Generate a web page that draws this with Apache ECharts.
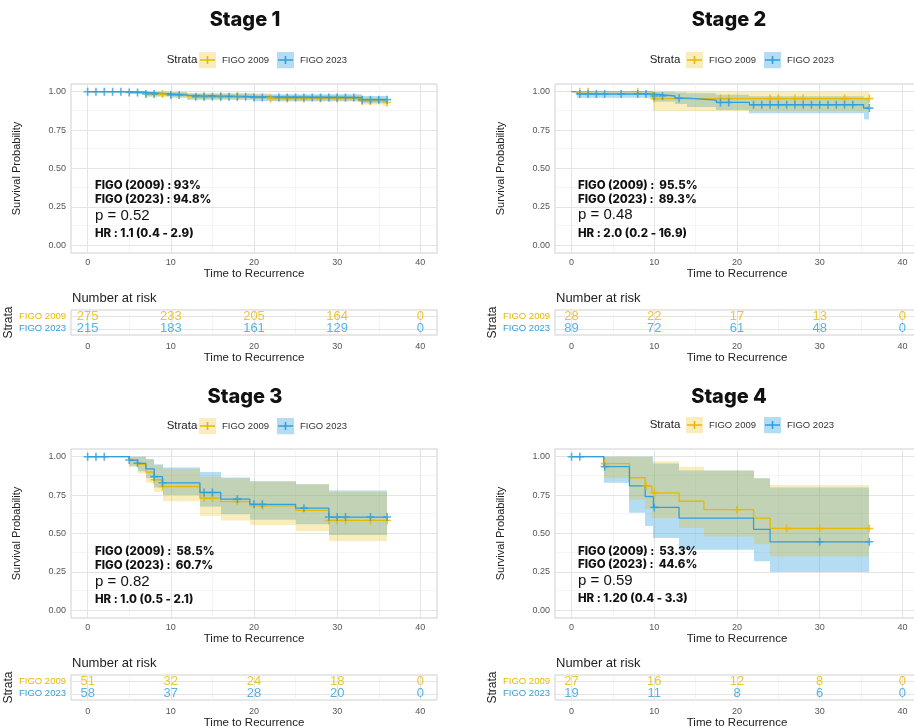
<!DOCTYPE html>
<html>
<head>
<meta charset="UTF-8">
<script src="https://cdn.jsdelivr.net/npm/echarts@6/dist/echarts.min.js"></script>
<title>FIGO 2009 vs FIGO 2023 - recurrence by stage</title>
<style>
  html, body { margin: 0; padding: 0; background: #fff; }
  #main { width: 914px; height: 727px; }
</style>
</head>
<body>
<div id="main"></div>
<script type="text/javascript">
// ---------- data ----------
var END_TIME = 36;
var riskTimes = [0, 10, 20, 30, 40];
var groups = ['FIGO 2023', 'FIGO 2009'];   // risk table rows, bottom -> top

// Stage 1
var s1_09_t  = [0, 7, 12, 22, 33, 35.5];
var s1_09_s  = [1, 0.985, 0.97, 0.955, 0.94, 0.93];
var s1_09_lo = [1, 0.965, 0.95, 0.935, 0.915, 0.905];
var s1_09_hi = [1, 1, 0.99, 0.978, 0.965, 0.958];
var s1_09_c  = [9, 14, 16, 18, 22, 24, 26, 28, 30, 33, 34, 36];
var s1_23_t  = [0, 5, 7, 10, 12, 20, 33];
var s1_23_s  = [1, 0.995, 0.985, 0.978, 0.967, 0.962, 0.948];
var s1_23_lo = [1, 0.985, 0.97, 0.96, 0.948, 0.94, 0.925];
var s1_23_hi = [1, 1, 1, 0.997, 0.988, 0.984, 0.972];
var s1_23_c  = [0, 1, 2, 3, 4, 5, 6, 7, 8, 10, 11, 13, 14, 15, 16, 17, 18, 19, 20, 21, 23, 24, 25, 26, 27, 28, 29, 30, 31, 32, 33, 34, 35, 36];
var s1_09_risk = [275, 233, 205, 164, 0];
var s1_23_risk = [215, 183, 161, 129, 0];

// Stage 2
var s2_09_t  = [0, 9.8];
var s2_09_s  = [1, 0.955];
var s2_09_lo = [1, 0.875];
var s2_09_hi = [1, 1];
var s2_09_c  = [1, 2, 8, 10, 18, 19, 24, 25, 27, 28, 33, 36];
var s2_23_t  = [0, 0.7, 9.8, 12.5, 14, 17.5, 21.5, 35.3];
var s2_23_s  = [1, 0.985, 0.972, 0.958, 0.945, 0.93, 0.915, 0.893];
var s2_23_lo = [1, 0.96, 0.935, 0.92, 0.9, 0.88, 0.86, 0.82];
var s2_23_hi = [1, 1, 1, 0.995, 0.99, 0.98, 0.97, 0.96];
var s2_23_c  = [1, 2, 3, 4, 6, 8, 9, 10, 11, 13, 18, 19, 22, 23, 24, 25, 26, 27, 28, 29, 30, 31, 32, 33, 34, 36];
var s2_09_risk = [28, 22, 17, 13, 0];
var s2_23_risk = [89, 72, 61, 48, 0];

// Stage 3
var s3_09_t  = [0, 5, 6, 7, 8, 9, 13.5, 16, 19.5, 25, 29];
var s3_09_s  = [1, 0.975, 0.95, 0.9, 0.85, 0.806, 0.73, 0.708, 0.68, 0.65, 0.585];
var s3_09_lo = [1, 0.93, 0.89, 0.83, 0.77, 0.71, 0.615, 0.585, 0.555, 0.515, 0.45];
var s3_09_hi = [1, 1, 1, 0.98, 0.945, 0.92, 0.87, 0.86, 0.84, 0.82, 0.77];
var s3_09_c  = [8, 9, 14, 15, 18, 21, 29, 30, 31, 34, 36];
var s3_23_t  = [0, 5, 6, 7, 8, 9, 13.5, 16, 19.5, 25, 29];
var s3_23_s  = [1, 0.978, 0.957, 0.92, 0.87, 0.83, 0.767, 0.724, 0.69, 0.665, 0.607];
var s3_23_lo = [1, 0.94, 0.905, 0.86, 0.8, 0.75, 0.675, 0.625, 0.59, 0.56, 0.49];
var s3_23_hi = [1, 1, 1, 0.985, 0.95, 0.93, 0.9, 0.865, 0.84, 0.82, 0.78];
var s3_23_c  = [0, 1, 2, 5, 6, 8, 9, 14, 15, 18, 20, 21, 26, 29, 30, 31, 34, 36];
var s3_09_risk = [51, 32, 24, 18, 0];
var s3_23_risk = [58, 37, 28, 20, 0];

// Stage 4
var s4_09_t  = [0, 3.9, 7, 8.9, 9.7, 13, 16, 22, 24];
var s4_09_s  = [1, 0.955, 0.863, 0.81, 0.765, 0.71, 0.655, 0.6, 0.533];
var s4_09_lo = [1, 0.86, 0.72, 0.66, 0.6, 0.535, 0.48, 0.43, 0.35];
var s4_09_hi = [1, 1, 1, 1, 0.97, 0.935, 0.91, 0.86, 0.815];
var s4_09_c  = [4, 9, 10, 20, 26, 30, 36];
var s4_23_t  = [0, 3.9, 7, 8.9, 9.9, 13, 22, 24];
var s4_23_s  = [1, 0.935, 0.81, 0.74, 0.67, 0.6, 0.527, 0.446];
var s4_23_lo = [1, 0.83, 0.635, 0.55, 0.47, 0.395, 0.32, 0.25];
var s4_23_hi = [1, 1, 1, 1, 0.955, 0.91, 0.86, 0.8];
var s4_23_c  = [0, 1, 4, 10, 30, 36];
var s4_09_risk = [27, 16, 12, 8, 0];
var s4_23_risk = [19, 11, 8, 6, 0];

var stageNames = ['Stage 1', 'Stage 2', 'Stage 3', 'Stage 4'];
var notes = [
  ['FIGO (2009) : 93%', 'FIGO (2023) : 94.8%', 'p = 0.52', 'HR : 1.1 (0.4 - 2.9)'],
  ['FIGO (2009) :  95.5%', 'FIGO (2023) :  89.3%', 'p = 0.48', 'HR : 2.0 (0.2 - 16.9)'],
  ['FIGO (2009) :  58.5%', 'FIGO (2023) :  60.7%', 'p = 0.82', 'HR : 1.0 (0.5 - 2.1)'],
  ['FIGO (2009) :  53.3%', 'FIGO (2023) :  44.6%', 'p = 0.59', 'HR : 1.20 (0.4 - 3.3)']
];

var stages = [
  { g09: {t: s1_09_t, s: s1_09_s, lo: s1_09_lo, hi: s1_09_hi, c: s1_09_c, risk: s1_09_risk},
    g23: {t: s1_23_t, s: s1_23_s, lo: s1_23_lo, hi: s1_23_hi, c: s1_23_c, risk: s1_23_risk} },
  { g09: {t: s2_09_t, s: s2_09_s, lo: s2_09_lo, hi: s2_09_hi, c: s2_09_c, risk: s2_09_risk},
    g23: {t: s2_23_t, s: s2_23_s, lo: s2_23_lo, hi: s2_23_hi, c: s2_23_c, risk: s2_23_risk} },
  { g09: {t: s3_09_t, s: s3_09_s, lo: s3_09_lo, hi: s3_09_hi, c: s3_09_c, risk: s3_09_risk},
    g23: {t: s3_23_t, s: s3_23_s, lo: s3_23_lo, hi: s3_23_hi, c: s3_23_c, risk: s3_23_risk} },
  { g09: {t: s4_09_t, s: s4_09_s, lo: s4_09_lo, hi: s4_09_hi, c: s4_09_c, risk: s4_09_risk},
    g23: {t: s4_23_t, s: s4_23_s, lo: s4_23_lo, hi: s4_23_hi, c: s4_23_c, risk: s4_23_risk} }
];

// ---------- layout ----------
var layout = [
  {km: {left: 71, top: 84, width: 366, height: 169}, tab: {left: 71, top: 310, width: 366, height: 25},
   title: [245, 20], strata: [182, 60], legend: [199, 51.5], risk: [72, 298], ann: [95, 186, 200, 216, 234]},
  {km: {left: 555, top: 84, width: 364, height: 169}, tab: {left: 555, top: 310, width: 364, height: 25},
   title: [729, 20], strata: [665, 60], legend: [686, 51.5], risk: [556, 298], ann: [578, 186, 200, 215, 234]},
  {km: {left: 71, top: 449, width: 366, height: 169}, tab: {left: 71, top: 675, width: 366, height: 25},
   title: [245, 397], strata: [182, 426], legend: [199, 417.5], risk: [72, 663], ann: [95, 552, 566, 582, 600]},
  {km: {left: 555, top: 449, width: 364, height: 169}, tab: {left: 555, top: 675, width: 364, height: 25},
   title: [729, 397], strata: [665, 425], legend: [686, 416.5], risk: [556, 663], ann: [578, 552, 565, 581, 599]}
];

var GOLD = '#E7B800', BLUE = '#2E9FDF';
var GOLD_BAND = 'rgba(231,184,0,0.26)', BLUE_BAND = 'rgba(46,159,223,0.36)';
var AXIS_FONT = 'Liberation Sans, Arial, sans-serif';
var BOLD_FONT = 'Inter, Roboto, sans-serif';
var PLUS = 'path://M0,4H10V6H0Z M4,0H6V10H4Z';

// ---------- helpers ----------
function survAt(ts, ss, t) {
  var v = ss[0];
  for (var i = 0; i < ts.length; i++) { if (ts[i] <= t) v = ss[i]; }
  return v;
}
function stepData(g) {
  var d = g.t.map(function (t, i) { return [t, g.s[i]]; });
  d.push([END_TIME, g.s[g.s.length - 1]]);
  return d;
}
function bandData(g) {
  var d = [];
  for (var i = 0; i < g.t.length; i++) {
    var t1 = i < g.t.length - 1 ? g.t[i + 1] : END_TIME;
    if (g.hi[i] > g.lo[i]) d.push([g.t[i], t1, g.lo[i], g.hi[i]]);
  }
  return d;
}
function bandRenderer(fill) {
  return function (params, api) {
    var a = api.coord([api.value(0), api.value(3)]);
    var b = api.coord([api.value(1), api.value(2)]);
    var x0 = Math.round(a[0]), x1 = Math.round(b[0]);
    return {type: 'rect', shape: {x: x0, y: a[1], width: x1 - x0, height: b[1] - a[1]}, style: {fill: fill}};
  };
}
function keyIcon(c, band) {
  var svg = '<svg xmlns="http://www.w3.org/2000/svg" width="17" height="17">' +
    '<rect width="17" height="17" fill="' + band + '"/>' +
    '<path d="M1 8.5H16M8.5 4.5V12.5" stroke="' + c + '" stroke-width="1.6" fill="none"/></svg>';
  return 'image://data:image/svg+xml;charset=utf-8,' + encodeURIComponent(svg);
}
function gridMarks(xs, ys) {
  var d = [];
  xs[0].forEach(function (v) { d.push({xAxis: v, lineStyle: {color: '#e4e4e4', width: 1, type: 'solid'}}); });
  xs[1].forEach(function (v) { d.push({xAxis: v, lineStyle: {color: '#efefef', width: 0.6, type: 'solid'}}); });
  ys[0].forEach(function (v) { d.push({yAxis: v, lineStyle: {color: '#e4e4e4', width: 1, type: 'solid'}}); });
  ys[1].forEach(function (v) { d.push({yAxis: v, lineStyle: {color: '#efefef', width: 0.6, type: 'solid'}}); });
  return d;
}

var xMajor = [0, 10, 20, 30, 40], xMinor = [5, 15, 25, 35];
var yMajor = [0, 0.25, 0.5, 0.75, 1], yMinor = [0.125, 0.375, 0.625, 0.875];

var grids = [], xAxes = [], yAxes = [], series = [], legends = [], graphics = [];
var icon09 = keyIcon(GOLD, GOLD_BAND), icon23 = keyIcon(BLUE, BLUE_BAND);

// KM panels: grid 0..3, risk tables: grid 4..7
layout.forEach(function (L) {
  grids.push({left: L.km.left, top: L.km.top, width: L.km.width, height: L.km.height,
    show: true, backgroundColor: '#fff', borderColor: '#cfcfcf', borderWidth: 1, outerBoundsMode: 'none'});
});
layout.forEach(function (L) {
  grids.push({left: L.tab.left, top: L.tab.top, width: L.tab.width, height: L.tab.height,
    show: true, backgroundColor: '#fff', borderColor: '#cfcfcf', borderWidth: 1, outerBoundsMode: 'none'});
});

layout.forEach(function (L, k) {
  xAxes.push({type: 'value', gridIndex: k, min: -2, max: 42,
    name: 'Time to Recurrence', nameLocation: 'middle', nameGap: 15,
    nameTextStyle: {fontSize: 11.5, color: '#222', fontFamily: AXIS_FONT},
    axisLine: {show: false}, splitLine: {show: false},
    axisTick: {show: true, length: 3, customValues: xMajor, lineStyle: {color: '#555'}},
    axisLabel: {customValues: xMajor, margin: 5, fontSize: 9, color: '#555', fontFamily: AXIS_FONT}});
  yAxes.push({type: 'value', gridIndex: k, min: -0.05, max: 1.05,
    name: 'Survival Probability', nameLocation: 'middle', nameRotate: 90, nameGap: 49,
    nameTextStyle: {fontSize: 11, color: '#222', fontFamily: AXIS_FONT},
    axisLine: {show: false}, splitLine: {show: false},
    axisTick: {show: true, length: 3, customValues: yMajor, lineStyle: {color: '#555'}},
    axisLabel: {customValues: yMajor, margin: 5, fontSize: 9, color: '#555', fontFamily: AXIS_FONT,
      formatter: function (v) { return v.toFixed(2); }}});
});
layout.forEach(function (L, k) {
  xAxes.push({type: 'value', gridIndex: 4 + k, min: -2, max: 42,
    name: 'Time to Recurrence', nameLocation: 'middle', nameGap: 15,
    nameTextStyle: {fontSize: 11.5, color: '#222', fontFamily: AXIS_FONT},
    axisLine: {show: false}, splitLine: {show: false}, axisTick: {show: false},
    axisLabel: {customValues: xMajor, margin: 7, fontSize: 9, color: '#555', fontFamily: AXIS_FONT}});
  yAxes.push({type: 'category', gridIndex: 4 + k, data: groups,
    name: 'Strata', nameLocation: 'middle', nameRotate: 90, nameGap: 49,
    nameTextStyle: {fontSize: 12, color: '#222', fontFamily: AXIS_FONT},
    axisLine: {show: false}, splitLine: {show: false},
    axisTick: {show: true, length: 3, alignWithLabel: true, interval: 0, lineStyle: {color: '#555'}},
    axisLabel: {margin: 5, interval: 0, fontSize: 9.5, fontFamily: AXIS_FONT,
      color: function (v) { return v === 'FIGO 2009' ? GOLD : BLUE; }}});
});

stages.forEach(function (st, k) {
  var gs = [{g: st.g23, c: BLUE, band: BLUE_BAND, name: 'FIGO 2023'},
            {g: st.g09, c: GOLD, band: GOLD_BAND, name: 'FIGO 2009'}];
  // panel grid lines
  series.push({type: 'line', xAxisIndex: k, yAxisIndex: k, data: [[-2, -0.05]], symbol: 'none',
    lineStyle: {opacity: 0}, silent: true, z: 1,
    markLine: {silent: true, z: 1, symbol: ['none', 'none'], label: {show: false}, animation: false,
      data: gridMarks([xMajor, xMinor], [yMajor, yMinor])}});
  // confidence bands (blue under gold)
  gs.forEach(function (o) {
    series.push({type: 'custom', xAxisIndex: k, yAxisIndex: k, z: 2, silent: true,
      data: bandData(o.g), encode: {x: [0, 1], y: [2, 3]}, renderItem: bandRenderer(o.band)});
  });
  // KM step lines (gold first, blue on top)
  [gs[1], gs[0]].forEach(function (o) {
    series.push({name: o.name, type: 'line', step: 'end', xAxisIndex: k, yAxisIndex: k, z: 3,
      data: stepData(o.g), symbol: 'none', lineStyle: {color: o.c, width: 1.3}, itemStyle: {color: o.c}});
  });
  // censor marks
  [gs[1], gs[0]].forEach(function (o) {
    series.push({type: 'scatter', xAxisIndex: k, yAxisIndex: k, z: 4, symbol: PLUS, symbolSize: 8,
      itemStyle: {color: o.c},
      data: o.g.c.map(function (t) { return [t, survAt(o.g.t, o.g.s, t)]; })});
  });
  // risk table grid lines + numbers
  series.push({type: 'line', xAxisIndex: 4 + k, yAxisIndex: 4 + k, data: [], symbol: 'none',
    lineStyle: {opacity: 0}, silent: true, z: 1,
    markLine: {silent: true, z: 1, symbol: ['none', 'none'], label: {show: false}, animation: false,
      data: gridMarks([xMajor, xMinor], [groups, []])}});
  gs.forEach(function (o) {
    series.push({type: 'scatter', xAxisIndex: 4 + k, yAxisIndex: 4 + k, z: 4, symbolSize: 1,
      itemStyle: {color: 'rgba(0,0,0,0)'},
      label: {show: true, position: 'inside', fontSize: 13, color: o.c, fontFamily: AXIS_FONT,
        formatter: function (p) { return p.value[2]; }},
      data: riskTimes.map(function (t, i) { return [t, o.name, o.g.risk[i]]; })});
  });
});

layout.forEach(function (L, k) {
  legends.push({left: L.legend[0], top: L.legend[1], padding: 0, orient: 'horizontal',
    itemWidth: 17, itemHeight: 17, itemGap: 8, selectedMode: false,
    textStyle: {fontSize: 9.5, color: '#333', fontFamily: AXIS_FONT, padding: [0, 0, 0, 1]},
    data: [{name: 'FIGO 2009', icon: icon09}, {name: 'FIGO 2023', icon: icon23}]});
  graphics.push({type: 'text', x: L.title[0], y: L.title[1], silent: true, z: 100,
    style: {text: stageNames[k], font: '800 20px ' + BOLD_FONT, fill: '#111',
      textAlign: 'center', align: 'center', textVerticalAlign: 'middle', verticalAlign: 'middle'}});
  graphics.push({type: 'text', x: L.strata[0], y: L.strata[1], silent: true, z: 100,
    style: {text: 'Strata', font: '11.5px ' + AXIS_FONT, fill: '#222',
      textAlign: 'center', align: 'center', textVerticalAlign: 'middle', verticalAlign: 'middle'}});
  graphics.push({type: 'text', x: L.risk[0], y: L.risk[1], silent: true, z: 100,
    style: {text: 'Number at risk', font: '13px ' + AXIS_FONT, fill: '#222',
      textAlign: 'left', align: 'left', textVerticalAlign: 'middle', verticalAlign: 'middle'}});
  notes[k].forEach(function (txt, j) {
    var f = j === 2 ? '15px ' + AXIS_FONT : '800 11.5px ' + BOLD_FONT;
    graphics.push({type: 'text', x: L.ann[0], y: L.ann[j + 1], silent: true, z: 100,
      style: {text: txt, font: f, fill: '#111',
        textAlign: 'left', align: 'left', textVerticalAlign: 'middle', verticalAlign: 'middle'}});
  });
});

var myChart = echarts.init(document.getElementById('main'), null, {renderer: 'canvas'});
myChart.setOption({
  animation: false,
  backgroundColor: '#fff',
  textStyle: {fontFamily: AXIS_FONT},
  grid: grids,
  xAxis: xAxes,
  yAxis: yAxes,
  legend: legends,
  graphic: graphics,
  series: series
});
</script>
</body>
</html>
